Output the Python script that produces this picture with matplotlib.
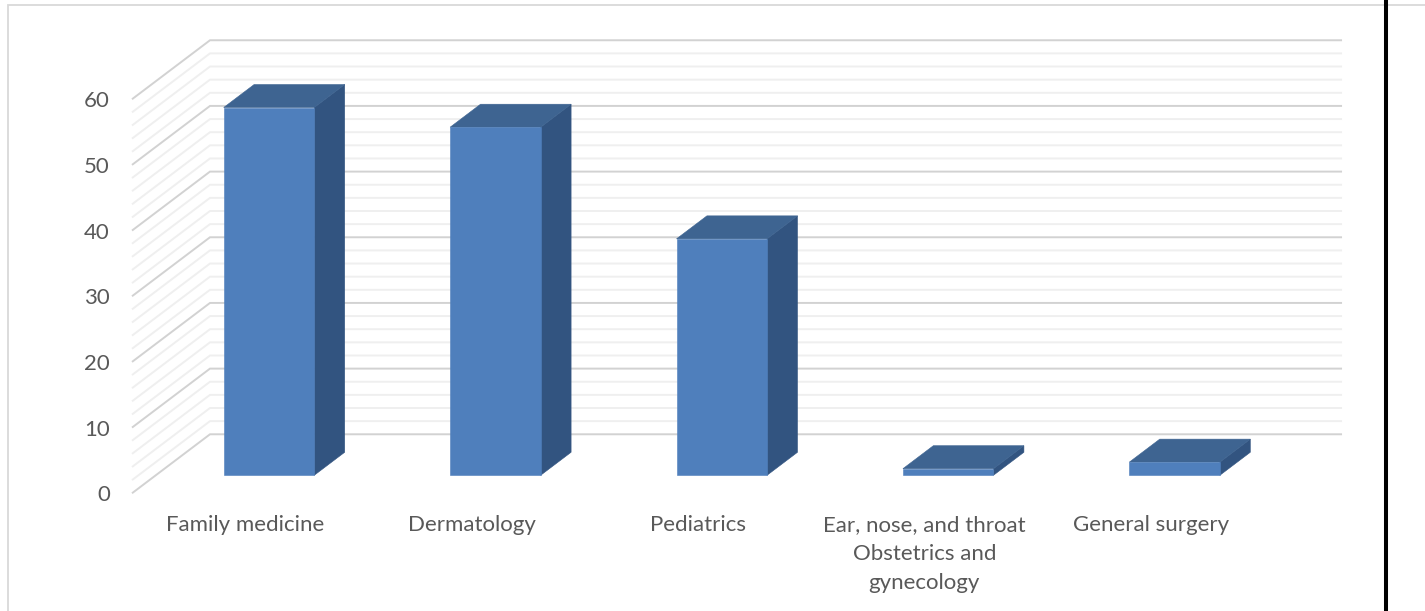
import matplotlib
matplotlib.use('Agg')
import matplotlib.pyplot as plt
from matplotlib.lines import Line2D
from matplotlib.patches import Polygon

categories = ['Family medicine', 'Dermatology', 'Pediatrics',
              'Ear, nose, and throat\nObstetrics and\ngynecology', 'General surgery']
values = [56, 53, 36, 1, 2]
y_ticks = [0, 10, 20, 30, 40, 50, 60]
minor_step = 2

# oblique offset of the back wall, in data units
depth_x = 0.3445
depth_y = 8.98
bar_width = 0.40
bar_near = 0.305
bar_far = 0.695

front_color = '#4f7fbc'
top_color = '#3e6491'
side_color = '#325480'
major_grid = '#d2d2d2'
minor_grid = '#efefef'
text_color = '#595959'


def proj(x, v, d):
    return x + d * depth_x, v + d * depth_y


fig = plt.figure(figsize=(14.25, 6.11), dpi=100)
ax = fig.add_axes([0, 0, 1, 1])
ax.set_xlim(-0.583, 5.711)
ax.set_ylim(-17.93, 75.11)
ax.axis('off')

# walls: side wall and back wall grid
for v in range(0, y_ticks[-1] + 1, minor_step):
    major = v % 10 == 0
    color = major_grid if major else minor_grid
    pts = [proj(0, v, 0), proj(0, v, 1), proj(len(categories), v, 1)]
    ax.plot([p[0] for p in pts], [p[1] for p in pts], color=color,
            lw=1.4, solid_joinstyle='miter', solid_capstyle='butt', zorder=1)

# bars
for i, val in enumerate(values):
    x0 = i + 0.5 - bar_width / 2
    x1 = i + 0.5 + bar_width / 2
    front = [proj(x0, 0, bar_near), proj(x1, 0, bar_near),
             proj(x1, val, bar_near), proj(x0, val, bar_near)]
    top = [proj(x0, val, bar_near), proj(x1, val, bar_near),
           proj(x1, val, bar_far), proj(x0, val, bar_far)]
    side = [proj(x1, 0, bar_near), proj(x1, 0, bar_far),
            proj(x1, val, bar_far), proj(x1, val, bar_near)]
    for pts, c in ((side, side_color), (top, top_color), (front, front_color)):
        ax.add_patch(Polygon(pts, closed=True, facecolor=c, edgecolor=c, lw=0.4, zorder=3))

# value labels on the front edge of the side wall
for v in y_ticks:
    ax.text(-0.0972, v - 0.3, str(v), ha='right', va='center', color=text_color,
            fontsize=16, family='Lato')

# category labels
for i, name in enumerate(categories):
    ax.text(i + 0.5, -3.3, name, ha='center', va='top', color=text_color,
            fontsize=16, family='Lato', linespacing=1.55)

# chart frame and the black rule on the right
fig.add_artist(Line2D([7.5 / 1425, 7.5 / 1425, 1], [0, 1 - 4.5 / 611, 1 - 4.5 / 611],
                      color='#d9d9d9', lw=1.3, solid_joinstyle='miter'))
fig.add_artist(Line2D([1386 / 1425, 1386 / 1425], [0, 1], color='black', lw=2.9))

fig.savefig('out.png', dpi=100)
